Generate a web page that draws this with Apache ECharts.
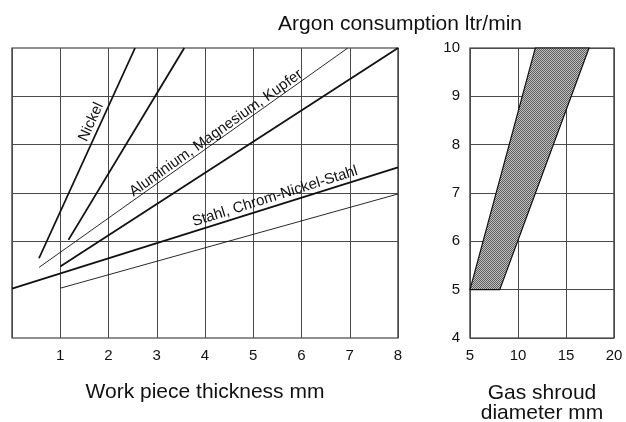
<!DOCTYPE html>
<html>
<head>
<meta charset="utf-8">
<script src="https://cdn.jsdelivr.net/npm/echarts@6/dist/echarts.min.js"></script>
<style>
  html, body { margin: 0; padding: 0; background: #fff; }
  #chart { width: 626px; height: 422px; }
</style>
</head>
<body>
<div id="chart"></div>
<script>
// Argon consumption vs. work piece thickness (left) and gas shroud diameter (right)
const thicknessTicks = [1, 2, 3, 4, 5, 6, 7, 8];
const shroudTicks = [5, 10, 15, 20];
const consumptionTicks = [4, 5, 6, 7, 8, 9, 10];

// Pairs of boundary lines per material group: [thickness, l/min]
const nickelUpper = [[0.56, 5.65], [2.55, 10]];
const nickelLower = [[1.17, 6.03], [3.57, 10]];
const aluUpper = [[0.56, 5.46], [6.96, 10]];
const aluLower = [[1.0, 5.48], [8, 10]];
const stahlUpper = [[0, 5.02], [8, 7.53]];
const stahlLower = [[1.0, 5.03], [8, 6.98]];

// Band of consumption over gas shroud diameter
const shroudX = [5, 8.1, 17.4, 11.8];
const shroudY = [5, 5, 10, 10];

const groupLabels = [
  { text: 'Nickel', at: [1.64, 8.47], line: nickelUpper },
  { text: 'Aluminium, Magnesium, Kupfer', at: [4.23, 8.24], line: aluUpper },
  { text: 'Stahl, Chrom-Nickel-Stahl', at: [5.45, 6.93], line: stahlUpper }
];

const FONT = '"Liberation Sans", Arial, Helvetica, sans-serif';
const GRID_COLOR = '#4a4a4a';

const chart = echarts.init(document.getElementById('chart'), null, { renderer: 'canvas' });

// stippled grey fill for the band
const pat = document.createElement('canvas');
pat.width = 2; pat.height = 2;
const pctx = pat.getContext('2d');
pctx.fillStyle = '#c0c0c0'; pctx.fillRect(0, 0, 2, 2);
pctx.fillStyle = '#5e5e5e'; pctx.fillRect(0, 0, 1, 1); pctx.fillRect(1, 1, 1, 1);

function lineSeries(data, width) {
  return {
    type: 'line', xAxisIndex: 0, yAxisIndex: 0, data: data,
    symbol: 'none', silent: true, z: 5,
    lineStyle: { color: '#111', width: width }
  };
}

const option = {
  animation: false,
  backgroundColor: '#fff',
  title: [
    {
      text: 'Argon consumption ltr/min',
      left: 395, top: 9, textAlign: 'center',
      textStyle: { fontFamily: FONT, fontSize: 21, fontWeight: 'normal', color: '#111' }
    },
    {
      text: 'Gas shroud\ndiameter mm',
      left: 542, top: 383, textAlign: 'center', padding: 0,
      textStyle: { fontFamily: FONT, fontSize: 21, fontWeight: 'normal', color: '#111', lineHeight: 20 }
    }
  ],
  grid: [
    { left: 12, top: 48, width: 386, height: 290, show: true, borderColor: '#222', borderWidth: 1.2, backgroundColor: 'transparent' },
    { left: 470, top: 48, width: 144, height: 290, show: true, borderColor: '#222', borderWidth: 1.2, backgroundColor: 'transparent' }
  ],
  xAxis: [
    {
      gridIndex: 0, type: 'value', min: 0, max: 8, interval: 1,
      name: 'Work piece thickness mm', nameLocation: 'middle', nameGap: 44,
      nameTextStyle: { fontFamily: FONT, fontSize: 21, color: '#111' },
      axisLine: { show: false }, axisTick: { show: false },
      axisLabel: {
        fontFamily: FONT, fontSize: 15, color: '#111', margin: 10,
        formatter: v => thicknessTicks.indexOf(v) >= 0 ? String(v) : ''
      },
      splitLine: { show: true, lineStyle: { color: GRID_COLOR, width: 1 } }
    },
    {
      gridIndex: 1, type: 'value', min: 5, max: 20, interval: 5,
      axisLine: { show: false }, axisTick: { show: false },
      axisLabel: {
        fontFamily: FONT, fontSize: 15, color: '#111', margin: 10,
        formatter: v => shroudTicks.indexOf(v) >= 0 ? String(v) : ''
      },
      splitLine: { show: true, lineStyle: { color: GRID_COLOR, width: 1 } }
    }
  ],
  yAxis: [
    {
      gridIndex: 0, type: 'value', min: 4, max: 10, interval: 1,
      axisLine: { show: false }, axisTick: { show: false }, axisLabel: { show: false },
      splitLine: { show: false }
    },
    {
      gridIndex: 1, type: 'value', min: 4, max: 10, interval: 1,
      axisLine: { show: false }, axisTick: { show: false },
      axisLabel: {
        fontFamily: FONT, fontSize: 15, color: '#111', margin: 10,
        formatter: v => consumptionTicks.indexOf(v) >= 0 ? String(v) : ''
      },
      splitLine: { show: true, lineStyle: { color: GRID_COLOR, width: 1 } }
    }
  ],
  series: [
    // horizontal rules of the thickness panel (none at 5 l/min)
    {
      type: 'line', xAxisIndex: 0, yAxisIndex: 0, data: [], silent: true,
      markLine: {
        silent: true, symbol: 'none', label: { show: false },
        lineStyle: { color: GRID_COLOR, width: 1, type: 'solid' },
        data: consumptionTicks.filter(v => v > 5 && v < 10).map(v => ({ yAxis: v }))
      }
    },
    lineSeries(nickelUpper, 1.8),
    lineSeries(nickelLower, 1.8),
    lineSeries(aluUpper, 0.9),
    lineSeries(aluLower, 1.8),
    lineSeries(stahlUpper, 1.8),
    lineSeries(stahlLower, 0.9),
    {
      type: 'custom', xAxisIndex: 1, yAxisIndex: 1, silent: true, z: 6,
      data: shroudX.map((x, i) => [x, shroudY[i]]),
      renderItem: function (params, api) {
        if (params.dataIndex !== 0) return null;
        const pts = shroudX.map((x, i) => api.coord([x, shroudY[i]]));
        return {
          type: 'polygon',
          shape: { points: pts },
          style: { fill: { image: pat, repeat: 'repeat' }, stroke: '#111', lineWidth: 1.2 }
        };
      }
    }
  ]
};

chart.setOption(option);

// material labels set along their lines
const graphics = groupLabels.map(l => {
  const p = chart.convertToPixel({ gridIndex: 0 }, l.at);
  const a = chart.convertToPixel({ gridIndex: 0 }, l.line[0]);
  const b = chart.convertToPixel({ gridIndex: 0 }, l.line[1]);
  const ang = Math.atan2(a[1] - b[1], b[0] - a[0]);
  return {
    type: 'text', x: p[0], y: p[1], rotation: ang, z: 10,
    style: {
      text: l.text, fontFamily: FONT, fontSize: 15, fill: '#111',
      align: 'center', verticalAlign: 'middle'
    }
  };
});
chart.setOption({ graphic: graphics });
</script>
</body>
</html>
